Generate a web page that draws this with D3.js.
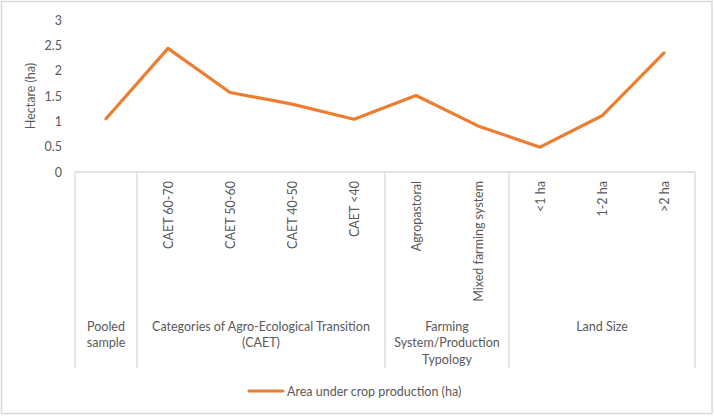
<!DOCTYPE html>
<html>
<head>
<meta charset="utf-8">
<script src="https://cdn.jsdelivr.net/npm/d3@7"></script>
<style>
  html, body { margin: 0; padding: 0; background: #fff; }
  svg { display: block; }
  text { font-family: Lato, "Open Sans", sans-serif; fill: #595959; }
</style>
</head>
<body>
<svg id="chart" width="714" height="416"></svg>
<script>
const categories = ["Pooled sample", "CAET 60-70", "CAET 50-60", "CAET 40-50", "CAET <40",
  "Agropastoral", "Mixed farming system", "<1 ha", "1-2 ha", ">2 ha"];
const catLabels = ["", "CAET 60-70", "CAET 50-60", "CAET 40-50", "CAET <40",
  "Agropastoral", "Mixed farming system", "<1 ha", "1-2 ha", ">2 ha"];
const values = [1.05, 2.44, 1.57, 1.34, 1.04, 1.51, 0.91, 0.49, 1.11, 2.35];
const groupLines = [["Pooled", "sample"], ["Categories of Agro-Ecological Transition", "(CAET)"],
  ["Farming", "System/Production", "Typology"], ["Land Size"]];
const groupSizes = [1, 4, 2, 3];
const yTicks = [0, 0.5, 1, 1.5, 2, 2.5, 3];
const seriesName = "Area under crop production (ha)";
const yTitle = "Hectare (ha)";

const svg = d3.select("#chart");
const W = 714, H = 416;
const pLeft = 75, pRight = 695, pTop = 20, pBottom = 172, sepBottom = 368;
const lineColor = "#ED7D31", gridColor = "#d9d9d9";

svg.append("rect").attr("x", 1.5).attr("y", 1.5).attr("width", W - 3.5).attr("height", H - 4)
  .attr("fill", "#fff").attr("stroke", gridColor).attr("stroke-width", 1.5);

const x = d3.scaleBand().domain(categories).range([pLeft, pRight]);
const y = d3.scaleLinear().domain([0, 3]).range([pBottom, pTop]);

// y tick labels
const yAxis = d3.axisLeft(y).tickValues(yTicks).tickSize(0).tickPadding(13)
  .tickFormat(d => String(d));
const ya = svg.append("g").attr("transform", `translate(${pLeft},0)`).call(yAxis);
ya.select(".domain").remove();
ya.selectAll("text").style("font-family", "Lato, 'Open Sans', sans-serif")
  .style("font-size", "12.5px").attr("fill", "#595959");

// y title
svg.append("text").attr("transform", `translate(32,${(pTop + pBottom) / 2}) rotate(-90)`)
  .attr("text-anchor", "middle").attr("dominant-baseline", "middle")
  .style("font-size", "12.5px").text(yTitle);

// category axis box
svg.append("line").attr("x1", pLeft).attr("x2", pRight).attr("y1", pBottom).attr("y2", pBottom)
  .attr("stroke", gridColor).attr("stroke-width", 1.3);

let idx = 0;
const bounds = [0];
groupSizes.forEach(s => { idx += s; bounds.push(idx); });
bounds.forEach(b => {
  const bx = b < categories.length ? x(categories[b]) : x(categories[categories.length - 1]) + x.bandwidth();
  svg.append("line").attr("x1", bx).attr("x2", bx).attr("y1", pBottom).attr("y2", sepBottom)
    .attr("stroke", gridColor).attr("stroke-width", 1.3);
});

// rotated category labels
svg.append("g").selectAll("text").data(categories).join("text")
  .attr("transform", d => `translate(${x(d) + x.bandwidth() / 2},181) rotate(-90)`)
  .attr("text-anchor", "end").attr("dominant-baseline", "central")
  .style("font-size", "12.5px")
  .text((d, i) => catLabels[i]);

// group labels
groupLines.forEach((lines, g) => {
  const start = bounds[g], end = bounds[g + 1];
  const x0 = x(categories[start]);
  const x1 = x(categories[end - 1]) + x.bandwidth();
  const cx = (x0 + x1) / 2;
  lines.forEach((ln, k) => {
    svg.append("text").attr("x", cx).attr("y", 326 + k * 16.5)
      .attr("text-anchor", "middle").attr("dominant-baseline", "central")
      .style("font-size", "12.5px").text(ln);
  });
});

// series line
const line = d3.line().x((d, i) => x(categories[i]) + x.bandwidth() / 2).y(d => y(d));
svg.append("path").datum(values).attr("d", line).attr("fill", "none")
  .attr("stroke", lineColor).attr("stroke-width", 3.2)
  .attr("stroke-linejoin", "round").attr("stroke-linecap", "round");

// legend
svg.append("line").attr("x1", 249).attr("x2", 283).attr("y1", 391).attr("y2", 391)
  .attr("stroke", lineColor).attr("stroke-width", 3.2).attr("stroke-linecap", "round");
svg.append("text").attr("x", 287).attr("y", 391).attr("dominant-baseline", "central")
  .style("font-size", "12.5px").text(seriesName);
</script>
</body>
</html>
